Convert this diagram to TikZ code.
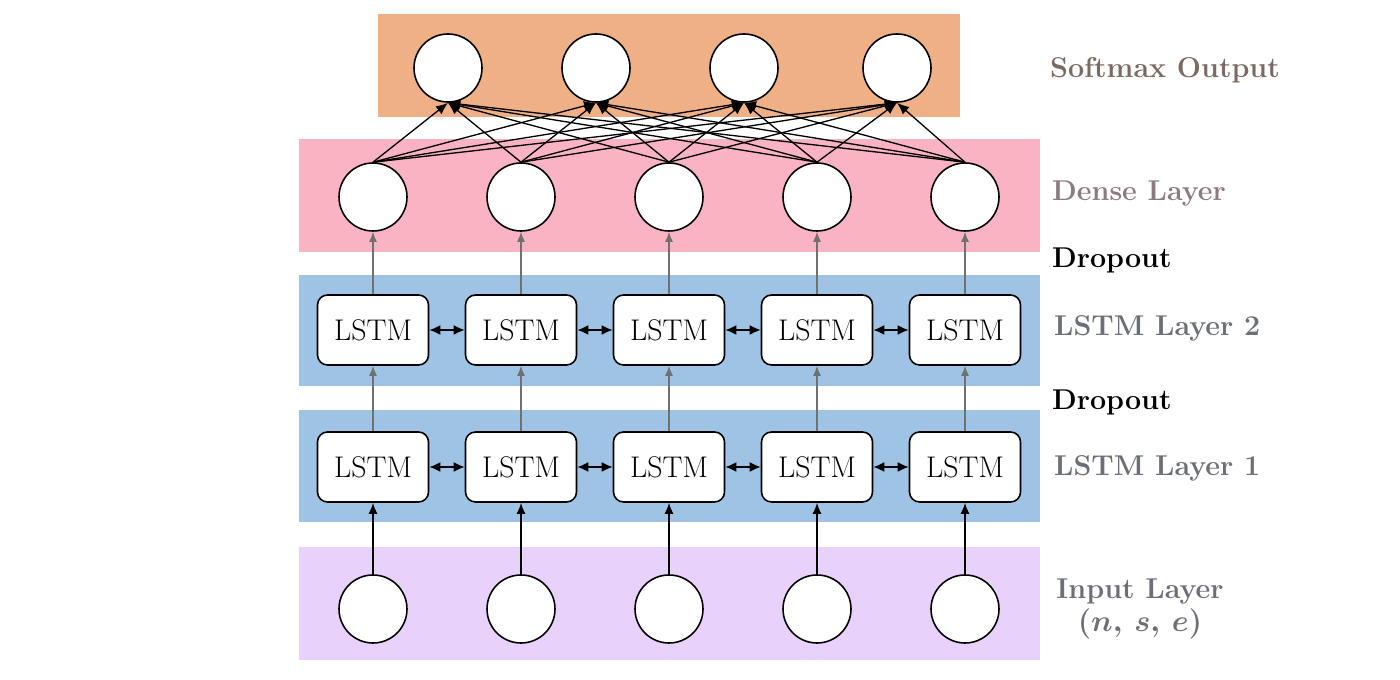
\documentclass[tikz,border=0pt]{standalone}
\usepackage{bm}
\usetikzlibrary{arrows.meta}
\definecolor{softmaxbg}{HTML}{F0B086}
\definecolor{densebg}{HTML}{F9B3C3}
\definecolor{lstmbg}{HTML}{9EC3E5}
\definecolor{inputbg}{HTML}{E8D1FA}
\definecolor{softmaxtxt}{HTML}{7A6A62}
\definecolor{densetxt}{HTML}{8C7A7E}
\definecolor{lstmtxt}{HTML}{6B6F78}
\definecolor{feedgray}{HTML}{707070}
\begin{document}
\begin{tikzpicture}
	[node distance={29.6mm},
	neuron/.style = {draw, circle, fill=white, line width=0.9pt, minimum size=13.6mm},
	cell/.style = {draw, rounded corners=2mm, fill=white, line width=0.9pt, minimum width=22.2mm, minimum height=14mm, font=\fontsize{17}{20}\selectfont},
	layername/.style = {anchor=west, font=\bfseries\fontsize{16.3}{19}\selectfont},
	full/.style = {-{Latex[length=2.4mm,width=2mm]}, line width=0.75pt},
	recur/.style = {{Latex[length=2.2mm,width=2mm]}-{Latex[length=2.2mm,width=2mm]}, line width=1pt},
	feed/.style = {-{Latex[length=2mm,width=1.6mm]}, feedgray, line width=0.8pt},
	inarrow/.style = {-{Latex[length=2.2mm,width=1.8mm]}, line width=0.9pt}]
\useasboundingbox (0,0) rectangle (28,13.6);
% coloured bands
\fill[softmaxbg] (7.56,11.26) rectangle (19.2,13.32);
\fill[densebg] (5.98,8.56) rectangle (20.8,10.82);
\fill[lstmbg] (5.98,5.88) rectangle (20.8,8.1);
\fill[lstmbg] (5.98,3.16) rectangle (20.8,5.4);
\fill[inputbg] (5.98,0.4) rectangle (20.8,2.66);
% softmax output
\node[neuron] (out1) at (8.96,12.24) {};
\node[neuron] (out2) [right of=out1] {};
\node[neuron] (out3) [right of=out2] {};
\node[neuron] (out4) [right of=out3, xshift=1mm] {};
% dense layer
\node[neuron] (den1) at (7.46,9.66) {};
\node[neuron] (den2) [right of=den1] {};
\node[neuron] (den3) [right of=den2] {};
\node[neuron] (den4) [right of=den3] {};
\node[neuron] (den5) [right of=den4] {};
% lstm layer 2
\node[cell] (ltwo1) at (7.46,7.0) {LSTM};
\node[cell] (ltwo2) [right of=ltwo1] {LSTM};
\node[cell] (ltwo3) [right of=ltwo2] {LSTM};
\node[cell] (ltwo4) [right of=ltwo3] {LSTM};
\node[cell] (ltwo5) [right of=ltwo4] {LSTM};
% lstm layer 1
\node[cell] (lone1) at (7.46,4.26) {LSTM};
\node[cell] (lone2) [right of=lone1] {LSTM};
\node[cell] (lone3) [right of=lone2] {LSTM};
\node[cell] (lone4) [right of=lone3] {LSTM};
\node[cell] (lone5) [right of=lone4] {LSTM};
% input layer
\node[neuron] (in1) at (7.46,1.42) {};
\node[neuron] (in2) [right of=in1] {};
\node[neuron] (in3) [right of=in2] {};
\node[neuron] (in4) [right of=in3] {};
\node[neuron] (in5) [right of=in4] {};
% labels
\node[layername, text=softmaxtxt] (lblout) at (20.88,12.2) {Softmax Output};
\node[layername, text=densetxt] (lblden) at (20.92,9.72) {Dense Layer};
\node[layername] (lbldrop2) at (20.92,8.4) {Dropout};
\node[layername, text=lstmtxt] (lbltwo) at (20.96,7.04) {LSTM Layer 2};
\node[layername] (lbldrop1) at (20.92,5.56) {Dropout};
\node[layername, text=lstmtxt] (lblone) at (20.96,4.24) {LSTM Layer 1};
\node[layername, anchor=center, align=center, text=lstmtxt] (lblin) at (22.8,1.42) {Input Layer\\ $\bm{(n,\: s,\: e)}$};
% dense -> softmax
\draw[full] (den1.north) -- (out1.south);
\draw[full] (den1.north) -- (out2.south);
\draw[full] (den1.north) -- (out3.south);
\draw[full] (den1.north) -- (out4.south);
\draw[full] (den2.north) -- (out1.south);
\draw[full] (den2.north) -- (out2.south);
\draw[full] (den2.north) -- (out3.south);
\draw[full] (den2.north) -- (out4.south);
\draw[full] (den3.north) -- (out1.south);
\draw[full] (den3.north) -- (out2.south);
\draw[full] (den3.north) -- (out3.south);
\draw[full] (den3.north) -- (out4.south);
\draw[full] (den4.north) -- (out1.south);
\draw[full] (den4.north) -- (out2.south);
\draw[full] (den4.north) -- (out3.south);
\draw[full] (den4.north) -- (out4.south);
\draw[full] (den5.north) -- (out1.south);
\draw[full] (den5.north) -- (out2.south);
\draw[full] (den5.north) -- (out3.south);
\draw[full] (den5.north) -- (out4.south);
% lstm 2 -> dense
\draw[feed] (ltwo1) -- (den1);
\draw[feed] (ltwo2) -- (den2);
\draw[feed] (ltwo3) -- (den3);
\draw[feed] (ltwo4) -- (den4);
\draw[feed] (ltwo5) -- (den5);
% lstm 1 -> lstm 2
\draw[feed] (lone1) -- (ltwo1);
\draw[feed] (lone2) -- (ltwo2);
\draw[feed] (lone3) -- (ltwo3);
\draw[feed] (lone4) -- (ltwo4);
\draw[feed] (lone5) -- (ltwo5);
% input -> lstm 1
\draw[inarrow] (in1) -- (lone1);
\draw[inarrow] (in2) -- (lone2);
\draw[inarrow] (in3) -- (lone3);
\draw[inarrow] (in4) -- (lone4);
\draw[inarrow] (in5) -- (lone5);
% bidirectional links
\draw[recur] (ltwo1) -- (ltwo2);
\draw[recur] (ltwo2) -- (ltwo3);
\draw[recur] (ltwo3) -- (ltwo4);
\draw[recur] (ltwo4) -- (ltwo5);
\draw[recur] (lone1) -- (lone2);
\draw[recur] (lone2) -- (lone3);
\draw[recur] (lone3) -- (lone4);
\draw[recur] (lone4) -- (lone5);
\end{tikzpicture}
\end{document}
